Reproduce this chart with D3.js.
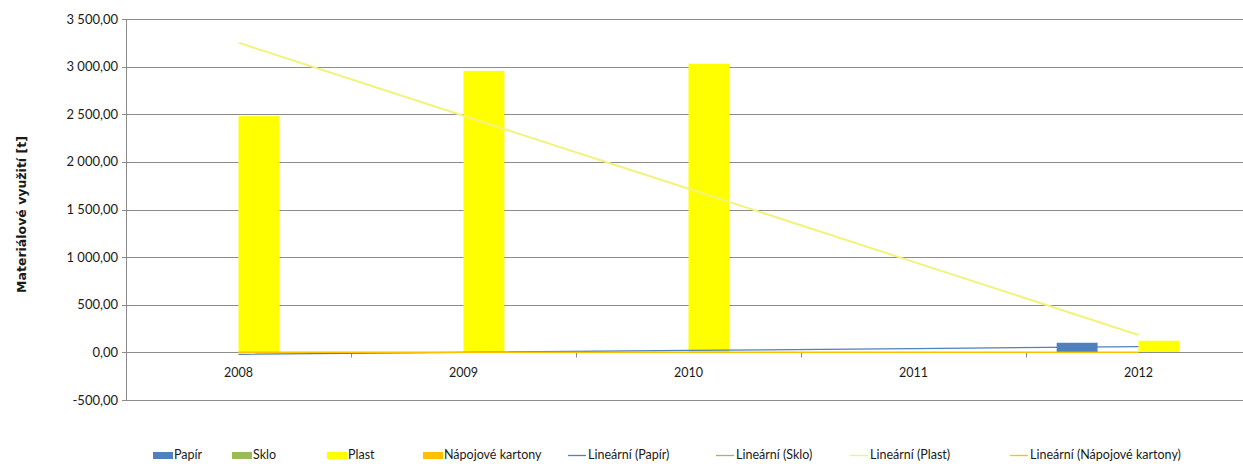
<!DOCTYPE html>
<html>
<head>
<meta charset="utf-8">
<script src="https://cdn.jsdelivr.net/npm/d3@7"></script>
<style>
  html, body { margin: 0; padding: 0; background: #fff; }
  svg { display: block; }
  text { font-family: Lato, "Noto Sans", sans-serif; fill: #1a1a1a; }
</style>
</head>
<body>
<svg id="chart" width="1243" height="464"></svg>
<script>
// ---- data ----
const years = ["2008", "2009", "2010", "2011", "2012"];
const papir = [0, 0, 0, 0, 101];
const sklo = [0, 0, 0, 0, 0];
const plast = [2480, 2955, 3030, 0, 122];
const napojoveKartony = [0, 0, 0, 0, 0];
const seriesNames = ["Papír", "Sklo", "Plast", "Nápojové kartony"];
const trendNames = ["Lineární (Papír)", "Lineární (Sklo)", "Lineární (Plast)", "Lineární (Nápojové kartony)"];
const yTickValues = [-500, 0, 500, 1000, 1500, 2000, 2500, 3000, 3500];
const yTickLabels = ["-500,00", "0,00", "500,00", "1 000,00", "1 500,00", "2 000,00", "2 500,00", "3 000,00", "3 500,00"];
const yTitle = "Materiálové využití [t]";

const seriesData = [papir, sklo, plast, napojoveKartony];
const barColors = ["#4F81BD", "#9BBB59", "#FFFF00", "#FFC000"];
const lineColors = ["#4F81BD", "#9BBB59", "#F2F27C", "#FFC000"];

// ---- layout ----
const svg = d3.select("#chart");
const pLeft = 126, pRight = 1251, pTop = 19, pBottom = 400;

const x = d3.scaleBand().domain(years).range([pLeft, pRight]).paddingInner(0).paddingOuter(0);
const y = d3.scaleLinear().domain([-500, 3500]).range([pBottom, pTop]);

const barW = x.bandwidth() / (seriesData.length + 1.5);
const xs = d3.scaleBand().domain(d3.range(seriesData.length))
  .range([barW * 0.75, barW * 0.75 + barW * seriesData.length]).padding(0);

// gridlines
svg.append("g").selectAll("line").data(yTickValues).join("line")
  .attr("x1", pLeft - 4).attr("x2", pRight)
  .attr("y1", d => Math.round(y(d)) + 0.5).attr("y2", d => Math.round(y(d)) + 0.5)
  .attr("stroke", "#8c8c8c").attr("stroke-width", 1);

// left axis line
svg.append("line").attr("x1", pLeft + 0.5).attr("x2", pLeft + 0.5)
  .attr("y1", y(3500)).attr("y2", y(-500)).attr("stroke", "#8c8c8c");

// y tick labels
svg.append("g").selectAll("text").data(yTickValues).join("text")
  .attr("x", pLeft - 8).attr("y", d => y(d)).attr("dy", "0.35em")
  .attr("text-anchor", "end").attr("font-size", 13)
  .text((d, i) => yTickLabels[i]);

// y title
svg.append("text")
  .attr("transform", `translate(26,${(pTop + pBottom) / 2 + 5}) rotate(-90)`)
  .attr("text-anchor", "middle")
  .style("font-family", "'DejaVu Sans', Verdana, sans-serif")
  .attr("font-weight", "bold").attr("font-size", 12.5)
  .text(yTitle);

// bars
seriesData.forEach((vals, si) => {
  svg.append("g").selectAll("rect").data(vals).join("rect")
    .attr("x", (d, i) => x(years[i]) + xs(si))
    .attr("width", xs.bandwidth())
    .attr("y", d => Math.min(y(d), y(0)))
    .attr("height", d => Math.abs(y(0) - y(d)))
    .attr("fill", barColors[si]);
});

// x axis (zero line) ticks between categories
const y0 = Math.round(y(0)) + 0.5;
svg.append("line").attr("x1", pLeft).attr("x2", pRight).attr("y1", y0).attr("y2", y0).attr("stroke", "#8c8c8c");
svg.append("g").selectAll("line").data(years.slice(1)).join("line")
  .attr("x1", d => x(d) + 0.5).attr("x2", d => x(d) + 0.5)
  .attr("y1", y0).attr("y2", y0 + 5).attr("stroke", "#8c8c8c");

// linear trend lines (least squares)
function linReg(vals) {
  const n = vals.length;
  const xsv = d3.range(1, n + 1);
  const mx = d3.mean(xsv), my = d3.mean(vals);
  const sxy = d3.sum(xsv, (v, i) => (v - mx) * (vals[i] - my));
  const sxx = d3.sum(xsv, v => (v - mx) * (v - mx));
  const b = sxy / sxx, a = my - b * mx;
  return xsv.map(v => a + b * v);
}
const lineGen = d3.line()
  .x((d, i) => x(years[i]) + x.bandwidth() / 2)
  .y(d => y(d));
seriesData.forEach((vals, si) => {
  const fit = linReg(vals);
  svg.append("path").datum(fit)
    .attr("d", lineGen)
    .attr("fill", "none")
    .attr("stroke", lineColors[si])
    .attr("stroke-width", si === 2 ? 2 : 1.3);
});

// category labels
svg.append("g").selectAll("text").data(years).join("text")
  .attr("x", d => x(d) + x.bandwidth() / 2)
  .attr("y", y(0) + 20).attr("dy", "0.35em")
  .attr("text-anchor", "middle").attr("font-size", 12.5)
  .text(d => d);

// legend
const legendY = 455;
const legendStarts = [153, 232, 327, 423, 568, 716, 850, 1010];
const legendItems = seriesNames.map((n, i) => ({ name: n, type: "bar", color: barColors[i] }))
  .concat(trendNames.map((n, i) => ({ name: n, type: "line", color: lineColors[i] })));
const lg = svg.append("g");
legendItems.forEach((it, i) => {
  const g = lg.append("g").attr("transform", `translate(${legendStarts[i]},${legendY})`);
  if (it.type === "bar") {
    g.append("rect").attr("x", 0).attr("y", -3).attr("width", 20).attr("height", 7).attr("fill", it.color);
    g.append("text").attr("x", 21).attr("y", 0).attr("dy", "0.35em").attr("font-size", 12.5).text(it.name);
  } else {
    g.append("line").attr("x1", 0).attr("x2", 18).attr("y1", 0.5).attr("y2", 0.5)
      .attr("stroke", it.color).attr("stroke-width", 1.3);
    g.append("text").attr("x", 20).attr("y", 0).attr("dy", "0.35em").attr("font-size", 12.5).text(it.name);
  }
});
</script>
</body>
</html>
